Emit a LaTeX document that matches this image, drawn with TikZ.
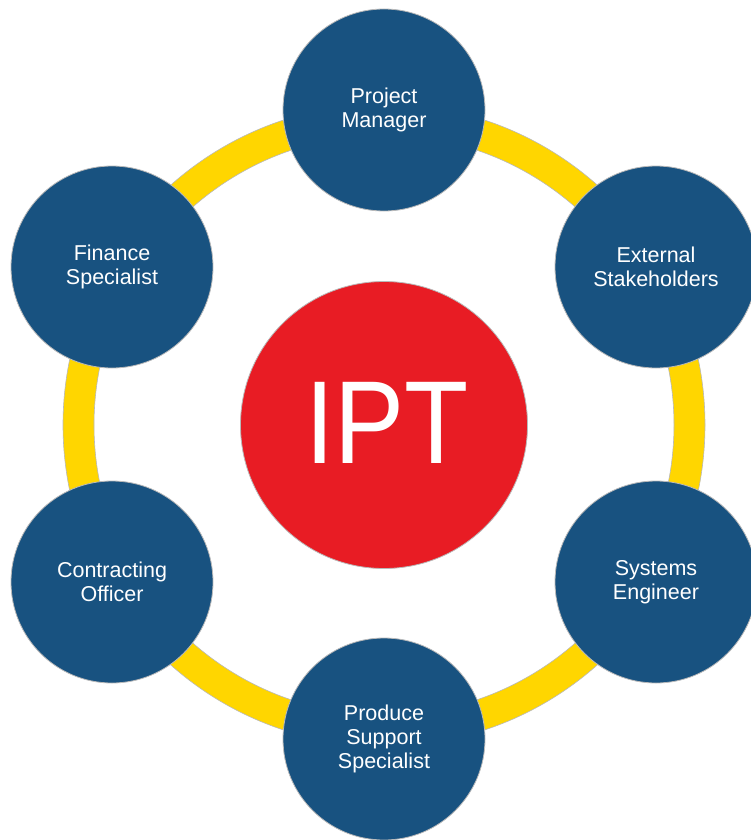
\documentclass[tikz,border=0pt]{standalone}
\usepackage{fontspec}
\setmainfont{Liberation Sans}
\usepackage{tikz}
\usetikzlibrary{positioning}
\definecolor{roleblue}{RGB}{24,82,128}
\definecolor{iptred}{RGB}{232,28,36}
\definecolor{ringyellow}{RGB}{255,214,0}
\definecolor{rimgray}{RGB}{185,185,185}

\begin{document}
\begin{tikzpicture}[x=1pt,y=-1pt,
  role/.style={circle,fill=roleblue,draw=rimgray,line width=0.8pt,minimum size=202pt,inner sep=0pt,
    text=white,align=center,font=\fontsize{21.5}{24}\selectfont},
  core/.style={circle,fill=iptred,draw=rimgray,line width=0.8pt,minimum size=287pt,inner sep=0pt,
    text=white,font=\fontsize{118}{118}\selectfont}]
  \useasboundingbox (0,0) rectangle (751,840);

  % ring
  \fill[ringyellow,draw=rimgray,line width=0.6pt,even odd rule]
    (384,425) circle[radius=321] (384,425) circle[radius=290];

  % team
  \node[role] (pm)  at (384,110) {Project\\Manager};
  \node[role] (ext) at (656,267) {External\\Stakeholders};
  \node[role] (se)  at (656,582) {Systems\\Engineer};
  \node[role] (pss) at (384,739) {Produce\\Support\\Specialist};
  \node[role] (co)  at (112,582) {Contracting\\Officer};
  \node[role] (fin) at (112,267) {Finance\\Specialist};

  % centre
  \node[core] (ipt) at (384,425) {\hspace{6pt}\raisebox{4pt}{\scalebox{0.89}[1]{IPT}}};
\end{tikzpicture}
\end{document}
